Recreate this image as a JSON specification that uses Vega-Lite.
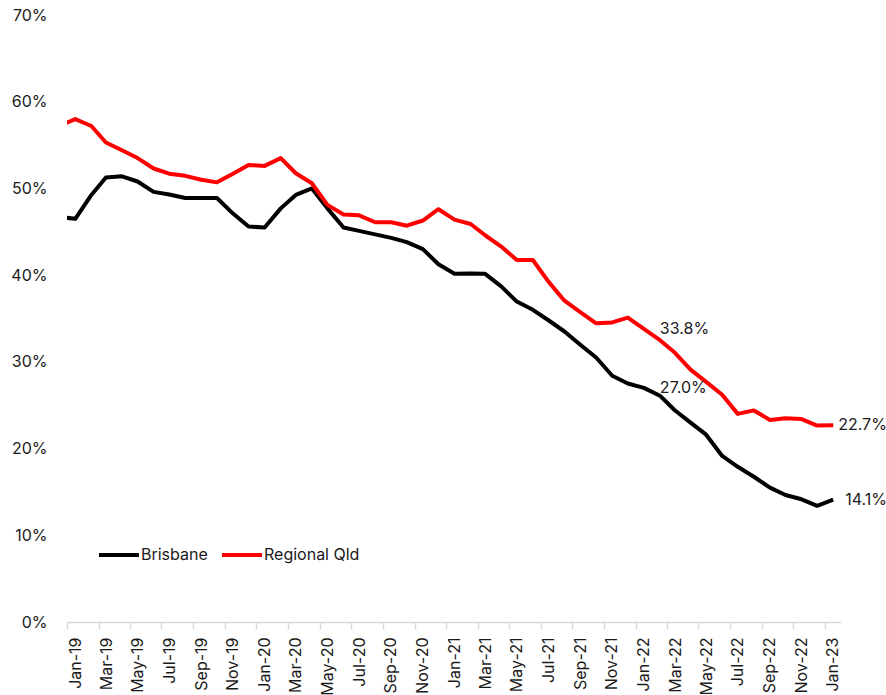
{
  "$schema": "https://vega.github.io/schema/vega-lite/v6.json",
  "autosize": "none",
  "width": 774,
  "height": 607,
  "padding": {"left": 67, "top": 15, "right": 45, "bottom": 73},
  "background": "#ffffff",
  "config": {
    "view": {"stroke": null},
    "font": "Inter",
    "text": {"font": "Inter"}
  },
  "data": {
    "values": [
      {"month": "2018-12-01", "Brisbane": 0.467, "Regional Qld": 0.572},
      {"month": "2019-01-01", "Brisbane": 0.465, "Regional Qld": 0.580},
      {"month": "2019-02-01", "Brisbane": 0.4925, "Regional Qld": 0.572},
      {"month": "2019-03-01", "Brisbane": 0.5125, "Regional Qld": 0.553},
      {"month": "2019-04-01", "Brisbane": 0.514, "Regional Qld": 0.544},
      {"month": "2019-05-01", "Brisbane": 0.508, "Regional Qld": 0.535},
      {"month": "2019-06-01", "Brisbane": 0.496, "Regional Qld": 0.523},
      {"month": "2019-07-01", "Brisbane": 0.493, "Regional Qld": 0.517},
      {"month": "2019-08-01", "Brisbane": 0.489, "Regional Qld": 0.5145},
      {"month": "2019-09-01", "Brisbane": 0.489, "Regional Qld": 0.510},
      {"month": "2019-10-01", "Brisbane": 0.489, "Regional Qld": 0.507},
      {"month": "2019-11-01", "Brisbane": 0.471, "Regional Qld": 0.517},
      {"month": "2019-12-01", "Brisbane": 0.456, "Regional Qld": 0.527},
      {"month": "2020-01-01", "Brisbane": 0.455, "Regional Qld": 0.526},
      {"month": "2020-02-01", "Brisbane": 0.477, "Regional Qld": 0.535},
      {"month": "2020-03-01", "Brisbane": 0.4925, "Regional Qld": 0.5175},
      {"month": "2020-04-01", "Brisbane": 0.500, "Regional Qld": 0.506},
      {"month": "2020-05-01", "Brisbane": 0.477, "Regional Qld": 0.481},
      {"month": "2020-06-01", "Brisbane": 0.455, "Regional Qld": 0.470},
      {"month": "2020-07-01", "Brisbane": 0.451, "Regional Qld": 0.469},
      {"month": "2020-08-01", "Brisbane": 0.447, "Regional Qld": 0.461},
      {"month": "2020-09-01", "Brisbane": 0.443, "Regional Qld": 0.461},
      {"month": "2020-10-01", "Brisbane": 0.438, "Regional Qld": 0.457},
      {"month": "2020-11-01", "Brisbane": 0.430, "Regional Qld": 0.463},
      {"month": "2020-12-01", "Brisbane": 0.4125, "Regional Qld": 0.476},
      {"month": "2021-01-01", "Brisbane": 0.4015, "Regional Qld": 0.464},
      {"month": "2021-02-01", "Brisbane": 0.402, "Regional Qld": 0.459},
      {"month": "2021-03-01", "Brisbane": 0.4015, "Regional Qld": 0.446},
      {"month": "2021-04-01", "Brisbane": 0.387, "Regional Qld": 0.433},
      {"month": "2021-05-01", "Brisbane": 0.3695, "Regional Qld": 0.4175},
      {"month": "2021-06-01", "Brisbane": 0.360, "Regional Qld": 0.4175},
      {"month": "2021-07-01", "Brisbane": 0.348, "Regional Qld": 0.3925},
      {"month": "2021-08-01", "Brisbane": 0.335, "Regional Qld": 0.3705},
      {"month": "2021-09-01", "Brisbane": 0.3195, "Regional Qld": 0.357},
      {"month": "2021-10-01", "Brisbane": 0.305, "Regional Qld": 0.3445},
      {"month": "2021-11-01", "Brisbane": 0.284, "Regional Qld": 0.3455},
      {"month": "2021-12-01", "Brisbane": 0.275, "Regional Qld": 0.351},
      {"month": "2022-01-01", "Brisbane": 0.270, "Regional Qld": 0.338},
      {"month": "2022-02-01", "Brisbane": 0.261, "Regional Qld": 0.325},
      {"month": "2022-03-01", "Brisbane": 0.2445, "Regional Qld": 0.311},
      {"month": "2022-04-01", "Brisbane": 0.230, "Regional Qld": 0.291},
      {"month": "2022-05-01", "Brisbane": 0.216, "Regional Qld": 0.277},
      {"month": "2022-06-01", "Brisbane": 0.1915, "Regional Qld": 0.262},
      {"month": "2022-07-01", "Brisbane": 0.179, "Regional Qld": 0.240},
      {"month": "2022-08-01", "Brisbane": 0.1675, "Regional Qld": 0.244},
      {"month": "2022-09-01", "Brisbane": 0.155, "Regional Qld": 0.233},
      {"month": "2022-10-01", "Brisbane": 0.1465, "Regional Qld": 0.235},
      {"month": "2022-11-01", "Brisbane": 0.1415, "Regional Qld": 0.234},
      {"month": "2022-12-01", "Brisbane": 0.134, "Regional Qld": 0.2265},
      {"month": "2023-01-01", "Brisbane": 0.141, "Regional Qld": 0.227}
    ]
  },
  "transform": [
    {"fold": ["Brisbane", "Regional Qld"], "as": ["series", "value"]}
  ],
  "encoding": {
    "x": {
      "field": "month",
      "type": "temporal",
      "scale": {
        "domain": [
          {"year": 2018, "month": 12, "date": 16, "utc": true},
          {"year": 2023, "month": 1, "date": 16, "utc": true}
        ],
        "nice": false
      },
      "axis": {
        "title": null,
        "grid": false,
        "values": [
          {"year": 2018, "month": 12, "date": 16, "utc": true},
          {"year": 2019, "month": 2, "date": 15, "utc": true},
          {"year": 2019, "month": 4, "date": 16, "utc": true},
          {"year": 2019, "month": 6, "date": 16, "utc": true},
          {"year": 2019, "month": 8, "date": 16, "utc": true},
          {"year": 2019, "month": 10, "date": 16, "utc": true},
          {"year": 2019, "month": 12, "date": 16, "utc": true},
          {"year": 2020, "month": 2, "date": 15, "utc": true},
          {"year": 2020, "month": 4, "date": 16, "utc": true},
          {"year": 2020, "month": 6, "date": 16, "utc": true},
          {"year": 2020, "month": 8, "date": 16, "utc": true},
          {"year": 2020, "month": 10, "date": 16, "utc": true},
          {"year": 2020, "month": 12, "date": 16, "utc": true},
          {"year": 2021, "month": 2, "date": 15, "utc": true},
          {"year": 2021, "month": 4, "date": 16, "utc": true},
          {"year": 2021, "month": 6, "date": 16, "utc": true},
          {"year": 2021, "month": 8, "date": 16, "utc": true},
          {"year": 2021, "month": 10, "date": 16, "utc": true},
          {"year": 2021, "month": 12, "date": 16, "utc": true},
          {"year": 2022, "month": 2, "date": 15, "utc": true},
          {"year": 2022, "month": 4, "date": 16, "utc": true},
          {"year": 2022, "month": 6, "date": 16, "utc": true},
          {"year": 2022, "month": 8, "date": 16, "utc": true},
          {"year": 2022, "month": 10, "date": 16, "utc": true},
          {"year": 2022, "month": 12, "date": 16, "utc": true}
        ],
        "labelExpr": "utcFormat(datum.value + 16 * 86400000, '%b-%y')",
        "labelAngle": 270,
        "labelAlign": "right",
        "labelBaseline": "middle",
        "labelOffset": 8,
        "labelPadding": 8,
        "labelFontSize": 16,
        "labelColor": "#1a1a1a",
        "labelFont": "Inter",
        "labelOverlap": false,
        "labelBound": false,
        "labelFlush": false,
        "domainColor": "#d9d9d9",
        "domainWidth": 1.5,
        "tickColor": "#d9d9d9",
        "tickWidth": 1.5,
        "tickSize": 7
      }
    },
    "y": {
      "field": "value",
      "type": "quantitative",
      "scale": {"domain": [0, 0.7], "nice": false, "zero": true},
      "axis": {
        "title": null,
        "grid": false,
        "domain": false,
        "ticks": false,
        "values": [0, 0.1, 0.2, 0.3, 0.4, 0.5, 0.6, 0.7],
        "format": ".0%",
        "labelPadding": 20,
        "labelFontSize": 16,
        "labelColor": "#1a1a1a",
        "labelFont": "Inter"
      }
    }
  },
  "layer": [
    {
      "mark": {"type": "line", "strokeWidth": 4, "clip": true, "strokeJoin": "round"},
      "encoding": {
        "color": {
          "field": "series",
          "type": "nominal",
          "scale": {"domain": ["Brisbane", "Regional Qld"], "range": ["#000000", "#ff0000"]},
          "legend": {
            "title": null,
            "orient": "none",
            "direction": "horizontal",
            "legendX": 30,
            "legendY": 518,
            "padding": 0,
            "symbolType": "stroke",
            "symbolSize": 1600,
            "symbolStrokeWidth": 4,
            "labelFontSize": 16,
            "labelFont": "Inter",
            "labelColor": "#1a1a1a",
            "labelOffset": 0,
            "columnPadding": 6
          }
        }
      }
    },
    {
      "transform": [
        {"filter": {"field": "month", "equal": {"year": 2022, "month": 1, "date": 1, "utc": true}}}
      ],
      "mark": {"type": "text", "align": "left", "baseline": "middle", "dx": 16, "fontSize": 16, "color": "#1a1a1a", "font": "Inter"},
      "encoding": {"text": {"field": "value", "type": "quantitative", "format": ".1%"}}
    },
    {
      "transform": [
        {"filter": {"and": [
          {"field": "month", "equal": {"year": 2023, "month": 1, "date": 1, "utc": true}},
          {"field": "series", "equal": "Regional Qld"}
        ]}}
      ],
      "mark": {"type": "text", "align": "left", "baseline": "middle", "dx": 5, "fontSize": 16, "color": "#1a1a1a", "font": "Inter"},
      "encoding": {"text": {"field": "value", "type": "quantitative", "format": ".1%"}}
    },
    {
      "transform": [
        {"filter": {"and": [
          {"field": "month", "equal": {"year": 2023, "month": 1, "date": 1, "utc": true}},
          {"field": "series", "equal": "Brisbane"}
        ]}}
      ],
      "mark": {"type": "text", "align": "left", "baseline": "middle", "dx": 12, "fontSize": 16, "color": "#1a1a1a", "font": "Inter"},
      "encoding": {"text": {"field": "value", "type": "quantitative", "format": ".1%"}}
    }
  ]
}
